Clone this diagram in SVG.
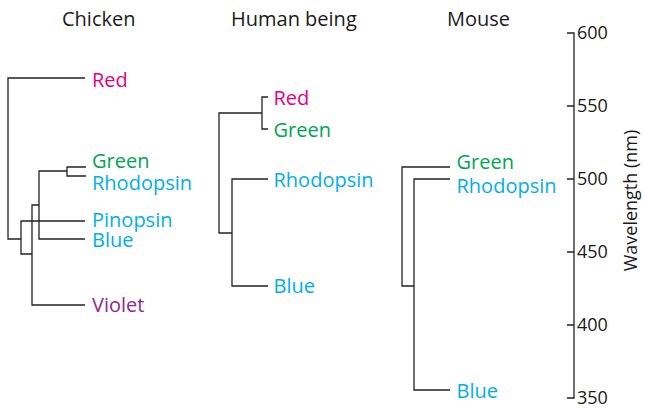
<svg xmlns="http://www.w3.org/2000/svg" width="645" height="410" viewBox="0 0 645 410">
<style>
text{font-family:"Open Sans","Noto Sans","Liberation Sans",sans-serif;font-size:20px}
.h{fill:#1a1a1a}
.r{fill:#e6007e}
.g{fill:#00a651}
.b{fill:#00aeef}
.v{fill:#92278f}
.ax{font-size:18px;fill:#1a1a1a}
.ln{fill:none;stroke:#222;stroke-width:1.3}
</style>
<rect width="645" height="410" fill="#fff"/>
<g id="headings">
<text class="h" x="62" y="26">Chicken</text>
<text class="h" x="231" y="26">Human being</text>
<text class="h" x="447" y="26">Mouse</text>
</g>
<g id="connectors" class="ln">
<path d="M85,78 H8 V239 H21"/>
<path d="M85,221 H21 V254 H32"/>
<path d="M85,305 H32 V205 H39"/>
<path d="M85,239 H39 V171 H67"/>
<path d="M86,167 H67 V176 H86"/>
<path d="M268,97 H262 V129 H268"/>
<path d="M262,113 H219 V233 H232"/>
<path d="M268,179 H232 V286 H268"/>
<path d="M450,167 H402 V286 H414"/>
<path d="M450,179 H414 V390 H450"/>
</g>
<g id="chicken">
<text id="c-red" class="r" x="92" y="86.5">Red</text>
<text id="c-green" class="g" x="92" y="168">Green</text>
<text id="c-rhodopsin" class="b" x="92" y="190">Rhodopsin</text>
<text id="c-pinopsin" class="b" x="92" y="226.5">Pinopsin</text>
<text id="c-blue" class="b" x="92" y="247">Blue</text>
<text id="c-violet" class="v" x="92" y="312">Violet</text>
</g>
<g id="human">
<text id="h-red" class="r" x="273.5" y="105">Red</text>
<text id="h-green" class="g" x="273.5" y="137">Green</text>
<text id="h-rhodopsin" class="b" x="273.5" y="187">Rhodopsin</text>
<text id="h-blue" class="b" x="273.5" y="293">Blue</text>
</g>
<g id="mouse">
<text id="m-green" class="g" x="456.5" y="169">Green</text>
<text id="m-rhodopsin" class="b" x="456.5" y="192.5">Rhodopsin</text>
<text id="m-blue" class="b" x="456.5" y="398">Blue</text>
</g>
<g id="axis">
<path class="ln" d="M567,33 H574 V398 H567 M567,106 H574 M567,179 H574 M567,252 H574 M567,325 H574"/>
<text class="ax" x="577" y="39">600</text>
<text class="ax" x="577" y="112">550</text>
<text class="ax" x="577" y="185">500</text>
<text class="ax" x="577" y="258">450</text>
<text class="ax" x="577" y="331">400</text>
<text class="ax" x="577" y="404">350</text>
<text class="ax" transform="translate(637,200.5) rotate(-90)" text-anchor="middle" font-size="17.5">Wavelength (nm)</text>
</g>
</svg>
